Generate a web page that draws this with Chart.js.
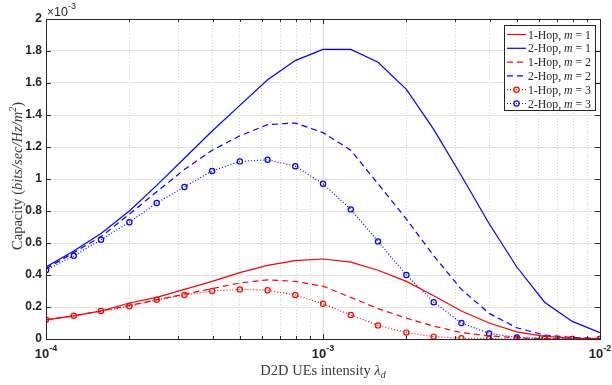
<!DOCTYPE html>
<html>
<head>
<meta charset="utf-8">
<script src="https://cdn.jsdelivr.net/npm/chart.js@4/dist/chart.umd.min.js"></script>
<style>
  html, body { margin: 0; padding: 0; background: #fff; }
</style>
</head>
<body>
<canvas id="chart" width="612" height="385"></canvas>
<script>
// D2D UE intensity (x axis, log scale)
const lambdaD = [1.00e-4, 1.26e-4, 1.58e-4, 2.00e-4, 2.51e-4, 3.16e-4, 3.98e-4, 5.01e-4, 6.31e-4, 7.94e-4,
                 1.00e-3, 1.26e-3, 1.58e-3, 2.00e-3, 2.51e-3, 3.16e-3, 3.98e-3, 5.01e-3, 6.31e-3, 7.94e-3, 1.00e-2];

// capacity values, in units of 1e-3 bits/sec/Hz/m^2
const hop1M1 = [0.12, 0.145, 0.175, 0.225, 0.26, 0.31, 0.36, 0.415, 0.46, 0.49, 0.50, 0.48, 0.43, 0.36, 0.27, 0.175, 0.10, 0.045, 0.017, 0.006, 0.002];
const hop2M1 = [0.45, 0.55, 0.66, 0.80, 0.96, 1.13, 1.30, 1.46, 1.62, 1.74, 1.81, 1.81, 1.73, 1.56, 1.31, 1.02, 0.72, 0.45, 0.23, 0.11, 0.04];
const hop1M2 = [0.12, 0.145, 0.175, 0.21, 0.245, 0.28, 0.315, 0.35, 0.37, 0.36, 0.33, 0.26, 0.19, 0.13, 0.08, 0.04, 0.02, 0.007, 0.002, 0.001, 0];
const hop2M2 = [0.44, 0.54, 0.64, 0.78, 0.92, 1.06, 1.18, 1.27, 1.34, 1.35, 1.29, 1.18, 0.97, 0.75, 0.52, 0.31, 0.16, 0.07, 0.025, 0.01, 0.003];
const hop1M3 = [0.12, 0.145, 0.175, 0.205, 0.245, 0.275, 0.30, 0.31, 0.305, 0.275, 0.22, 0.15, 0.085, 0.04, 0.015, 0.005, 0.002, 0.001, 0, 0, 0];
const hop2M3 = [0.43, 0.52, 0.62, 0.73, 0.85, 0.95, 1.05, 1.11, 1.12, 1.08, 0.97, 0.81, 0.61, 0.40, 0.23, 0.10, 0.035, 0.01, 0.003, 0.001, 0];

// axis ticks
const xDecades = [1e-4, 1e-3, 1e-2];
const yTicks = [0, 0.2, 0.4, 0.6, 0.8, 1, 1.2, 1.4, 1.6, 1.8, 2];

const RED = '#ff0000';
const BLUE = '#0000ff';
const AXIS = '#262626';
const SERIF = '"Liberation Serif", "DejaVu Serif", serif';
const SANS = '"Liberation Sans", Arial, sans-serif';

function pts(series) {
  return lambdaD.map((l, i) => ({ x: l, y: series[i] }));
}

function mkSet(label, m, data, color, dash, marker) {
  return {
    label: label,
    m: m,
    data: pts(data),
    borderColor: color,
    backgroundColor: color,
    borderWidth: 1.2,
    borderDash: dash,
    tension: 0,
    pointRadius: marker ? 2.6 : 0,
    pointBorderWidth: 1.2,
    pointBorderColor: color,
    pointBackgroundColor: 'rgba(255,255,255,0)',
    pointHoverRadius: 0
  };
}

// draw text made of pieces: [text, font, dy]
function drawRich(ctx, segs, x, y, align) {
  let w = 0;
  segs.forEach(s => { ctx.font = s[1]; w += ctx.measureText(s[0]).width; });
  let cx = align === 'center' ? x - w / 2 : (align === 'right' ? x - w : x);
  ctx.textAlign = 'left';
  ctx.textBaseline = 'alphabetic';
  segs.forEach(s => {
    ctx.font = s[1];
    ctx.fillText(s[0], cx, y + (s[2] || 0));
    cx += ctx.measureText(s[0]).width;
  });
}

// box, inner ticks, labels and legend like the matlab figure
const matlabLook = {
  id: 'matlabLook',
  afterDraw(chart) {
    const { ctx, chartArea: a, scales: { x, y } } = chart;
    ctx.save();

    // tick marks inside the box
    ctx.strokeStyle = AXIS;
    ctx.lineWidth = 1;
    ctx.beginPath();
    x.ticks.forEach(t => {
      const px = Math.round(x.getPixelForValue(t.value)) + 0.5;
      const len = t.major ? 5 : 3;
      ctx.moveTo(px, a.bottom); ctx.lineTo(px, a.bottom - len);
      ctx.moveTo(px, a.top); ctx.lineTo(px, a.top + len);
    });
    y.ticks.forEach(t => {
      const py = Math.round(y.getPixelForValue(t.value)) + 0.5;
      ctx.moveTo(a.left, py); ctx.lineTo(a.left + 5, py);
      ctx.moveTo(a.right, py); ctx.lineTo(a.right - 5, py);
    });
    ctx.stroke();
    ctx.strokeRect(Math.round(a.left) + 0.5, Math.round(a.top) + 0.5,
                   Math.round(a.right - a.left), Math.round(a.bottom - a.top));

    // x tick labels 10^n
    ctx.fillStyle = AXIS;
    xDecades.forEach(v => {
      const px = x.getPixelForValue(v);
      const e = Math.round(Math.log10(v));
      drawRich(ctx, [['10', 'bold 13px ' + SANS, 0], [String(e), 'bold 9px ' + SANS, -7]], px, a.bottom + 19, 'center');
    });

    // exponent above the y axis
    drawRich(ctx, [['\u00d7', '12px ' + SANS, 0], ['10', '12.5px ' + SANS, 0], ['-3', '9px ' + SANS, -7]], a.left + 1, a.top - 3, 'left');

    // axis titles
    ctx.fillStyle = '#3a3a3a';
    drawRich(ctx, [['D2D UEs intensity ', '14.5px ' + SERIF, 0], ['\u03bb', 'italic 14.5px ' + SERIF, 0], ['d', 'italic 10px ' + SERIF, 3]],
             (a.left + a.right) / 2, a.bottom + 36, 'center');
    ctx.save();
    ctx.translate(18, 176);
    ctx.rotate(-Math.PI / 2);
    drawRich(ctx, [['Capacity (', '14.5px ' + SERIF, 0], ['bits/sec/Hz/m', 'italic 14.5px ' + SERIF, 0],
                   ['2', 'italic 10px ' + SERIF, -6], [')', '14.5px ' + SERIF, 0]], 0, 4, 'center');
    ctx.restore();

    // legend box
    const bx = a.right - 96, by = a.top + 6, bw = 91, bh = 85;
    ctx.fillStyle = '#fff';
    ctx.fillRect(bx, by, bw, bh);
    ctx.strokeStyle = AXIS;
    ctx.strokeRect(bx + 0.5, by + 0.5, bw, bh);
    chart.data.datasets.forEach((ds, i) => {
      const ry = by + 9.5 + i * 13.8;
      ctx.strokeStyle = ds.borderColor;
      ctx.lineWidth = ds.borderWidth;
      ctx.setLineDash(ds.borderDash || []);
      ctx.beginPath();
      ctx.moveTo(bx + 3, ry); ctx.lineTo(bx + 22, ry);
      ctx.stroke();
      ctx.setLineDash([]);
      if (ds.pointRadius > 0) {
        ctx.beginPath();
        ctx.arc(bx + 12.5, ry, ds.pointRadius, 0, Math.PI * 2);
        ctx.stroke();
      }
      ctx.fillStyle = AXIS;
      drawRich(ctx, [[ds.label + ', ', '11.8px ' + SERIF, 0], ['m', 'italic 11.8px ' + SERIF, 0], [' = ' + ds.m, '11.8px ' + SERIF, 0]],
               bx + 24, ry + 4, 'left');
    });
    ctx.restore();
  }
};

const whiteBg = {
  id: 'whiteBg',
  beforeDraw(chart) {
    const ctx = chart.ctx;
    ctx.save();
    ctx.fillStyle = '#fff';
    ctx.fillRect(0, 0, chart.width, chart.height);
    ctx.restore();
  }
};

new Chart(document.getElementById('chart'), {
  type: 'line',
  data: {
    datasets: [
      mkSet('1-Hop', 1, hop1M1, RED, [], false),
      mkSet('2-Hop', 1, hop2M1, BLUE, [], false),
      mkSet('1-Hop', 2, hop1M2, RED, [6, 4], false),
      mkSet('2-Hop', 2, hop2M2, BLUE, [6, 4], false),
      mkSet('1-Hop', 3, hop1M3, RED, [1, 2], true),
      mkSet('2-Hop', 3, hop2M3, BLUE, [1, 2], true)
    ]
  },
  options: {
    responsive: false,
    animation: false,
    devicePixelRatio: 1,
    layout: { padding: { top: 19, right: 12, left: 0, bottom: 0 } },
    plugins: {
      legend: { display: false },
      tooltip: { enabled: false },
      title: { display: false }
    },
    scales: {
      x: {
        type: 'logarithmic',
        min: 1e-4,
        max: 1e-2,
        afterBuildTicks: scale => {
          const t = [];
          [1e-4, 1e-3].forEach(d => {
            for (let k = 1; k <= 9; k++) t.push({ value: k * d, major: k === 1 });
          });
          t.push({ value: 1e-2, major: true });
          scale.ticks = t;
        },
        afterFit: scale => { scale.height = 46; },
        ticks: { display: false, autoSkip: false },
        grid: {
          drawTicks: false,
          lineWidth: 1,
          color: ctx => (ctx.tick && ctx.tick.major) ? '#dcdcdc' : '#d2d2d2'
        },
        border: {
          display: false,
          dash: ctx => (ctx.tick && ctx.tick.major) ? [] : [1, 2]
        }
      },
      y: {
        min: 0,
        max: 2,
        afterBuildTicks: scale => { scale.ticks = yTicks.map(v => ({ value: v })); },
        afterFit: scale => { scale.width = 46; },
        ticks: {
          padding: 4,
          color: AXIS,
          font: { family: SANS, size: 12, weight: 'bold' },
          callback: v => String(+v.toFixed(1))
        },
        grid: { drawTicks: false, color: '#e3e3e3', lineWidth: 1 },
        border: { display: false }
      }
    }
  },
  plugins: [whiteBg, matlabLook]
});
</script>
</body>
</html>
